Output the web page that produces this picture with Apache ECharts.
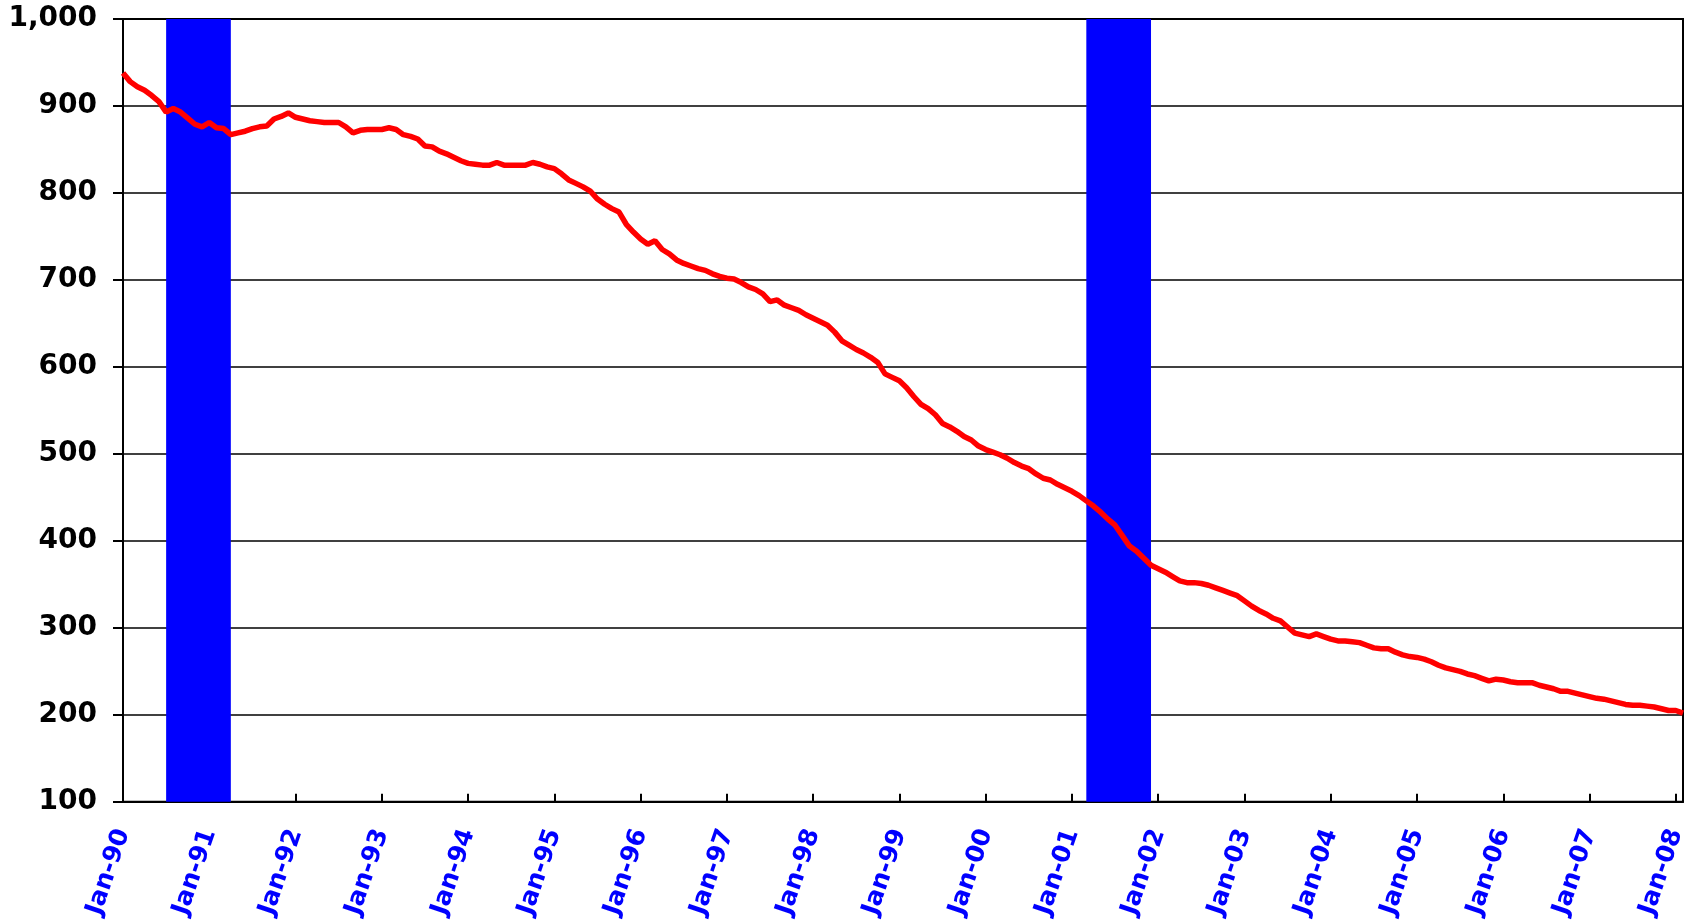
<!DOCTYPE html>
<html>
<head>
<meta charset="utf-8">
<script src="https://cdn.jsdelivr.net/npm/echarts@6/dist/echarts.min.js"></script>
<style>
  html, body { margin: 0; padding: 0; background: #fff; }
  #chart { width: 1694px; height: 921px; }
</style>
</head>
<body>
<div id="chart"></div>
<script>
// month names and years for the category axis (Jan-90 .. Feb-08)
var months = ['Jan','Feb','Mar','Apr','May','Jun','Jul','Aug','Sep','Oct','Nov','Dec'];
var years = ['90','91','92','93','94','95','96','97','98','99','00','01','02','03','04','05','06','07','08'];

// monthly values, one row per year
var values = [
  938, 928, 922, 918, 912, 905, 893, 897, 893, 886, 879, 876,   // 1990
  881, 875, 874, 867, 869, 871, 874, 876, 877, 885, 888, 892,   // 1991
  887, 885, 883, 882, 881, 881, 881, 876, 869, 872, 873, 873,   // 1992
  873, 875, 873, 867, 865, 862, 854, 853, 848, 845, 841, 837,   // 1993
  834, 833, 832, 832, 835, 832, 832, 832, 832, 835, 833, 830,   // 1994
  828, 822, 815, 811, 807, 802, 793, 787, 782, 778, 764, 755,   // 1995
  747, 741, 745, 735, 730, 723, 719, 716, 713, 711, 707, 704,   // 1996
  702, 701, 697, 692, 689, 684, 675, 677, 671, 668, 665, 660,   // 1997
  656, 652, 648, 640, 630, 625, 620, 616, 611, 605, 592, 588,   // 1998
  584, 576, 566, 557, 552, 545, 535, 531, 526, 520, 516, 509,   // 1999
  505, 502, 499, 495, 490, 486, 483, 477, 472, 470, 465, 461,   // 2000
  457, 452, 446, 440, 433, 425, 418, 406, 394, 388, 380, 372,   // 2001
  368, 364, 359, 354, 352, 352, 351, 349, 346, 343, 340, 337,   // 2002
  331, 325, 320, 316, 311, 308, 301, 294, 292, 290, 293, 290,   // 2003
  287, 285, 285, 284, 283, 280, 277, 276, 276, 272, 269, 267,   // 2004
  266, 264, 261, 257, 254, 252, 250, 247, 245, 242, 239, 241,   // 2005
  240, 238, 237, 237, 237, 234, 232, 230, 227, 227, 225, 223,   // 2006
  221, 219, 218, 216, 214, 212, 211, 211, 210, 209, 207, 205,   // 2007
  205, 202                                                      // 2008
];

// recession bands [start, end] as category labels
var bands = [
  ['Jul-90', 'Apr-91'],
  ['Mar-01', 'Dec-01']
];

var yTicks = { min: 100, max: 1000, step: 100 };

var cats = [];
for (var i = 0; i < values.length; i++) {
  cats.push(months[i % 12] + '-' + years[Math.floor(i / 12)]);
}

var myChart = echarts.init(document.getElementById('chart'), null, { renderer: 'canvas' });

var option = {
  backgroundColor: '#fff',
  animation: false,
  grid: {
    left: 123,
    top: 19,
    right: 11,
    bottom: 118,
    show: true,
    borderColor: '#000',
    borderWidth: 2
  },
  xAxis: {
    type: 'category',
    data: cats,
    boundaryGap: false,
    axisLine: { lineStyle: { color: '#000', width: 2 } },
    axisTick: {
      interval: 11,
      inside: true,
      length: 8,
      lineStyle: { color: '#000', width: 2 }
    },
    axisLabel: {
      interval: 11,
      rotate: 71,
      margin: 28,
      color: '#0000FF',
      fontFamily: 'DejaVu Sans',
      fontWeight: 'bold',
      fontSize: 25
    },
    splitLine: { show: false }
  },
  yAxis: {
    type: 'value',
    min: yTicks.min,
    max: yTicks.max,
    interval: yTicks.step,
    axisLine: { show: true, lineStyle: { color: '#000', width: 2 } },
    axisTick: { show: true, length: 10, lineStyle: { color: '#000', width: 2 } },
    axisLabel: {
      margin: 26,
      color: '#000',
      fontFamily: 'DejaVu Sans',
      fontWeight: 'bold',
      fontSize: 28,
      formatter: function (v) {
        return v >= 1000 ? Math.floor(v / 1000) + ',' + String(v % 1000).padStart(3, '0') : String(v);
      }
    },
    splitLine: { show: true, lineStyle: { color: '#000', width: 1.5 } }
  },
  series: [
    {
      type: 'line',
      data: values,
      showSymbol: false,
      symbol: 'none',
      lineStyle: { color: '#FF0000', width: 5.5 },
      z: 3,
      markArea: {
        silent: true,
        itemStyle: { color: '#0000FF', opacity: 1 },
        data: bands.map(function (b) {
          return [{ xAxis: b[0] }, { xAxis: b[1] }];
        })
      }
    }
  ]
};

myChart.setOption(option);
window.onresize = myChart.resize;
</script>
</body>
</html>
